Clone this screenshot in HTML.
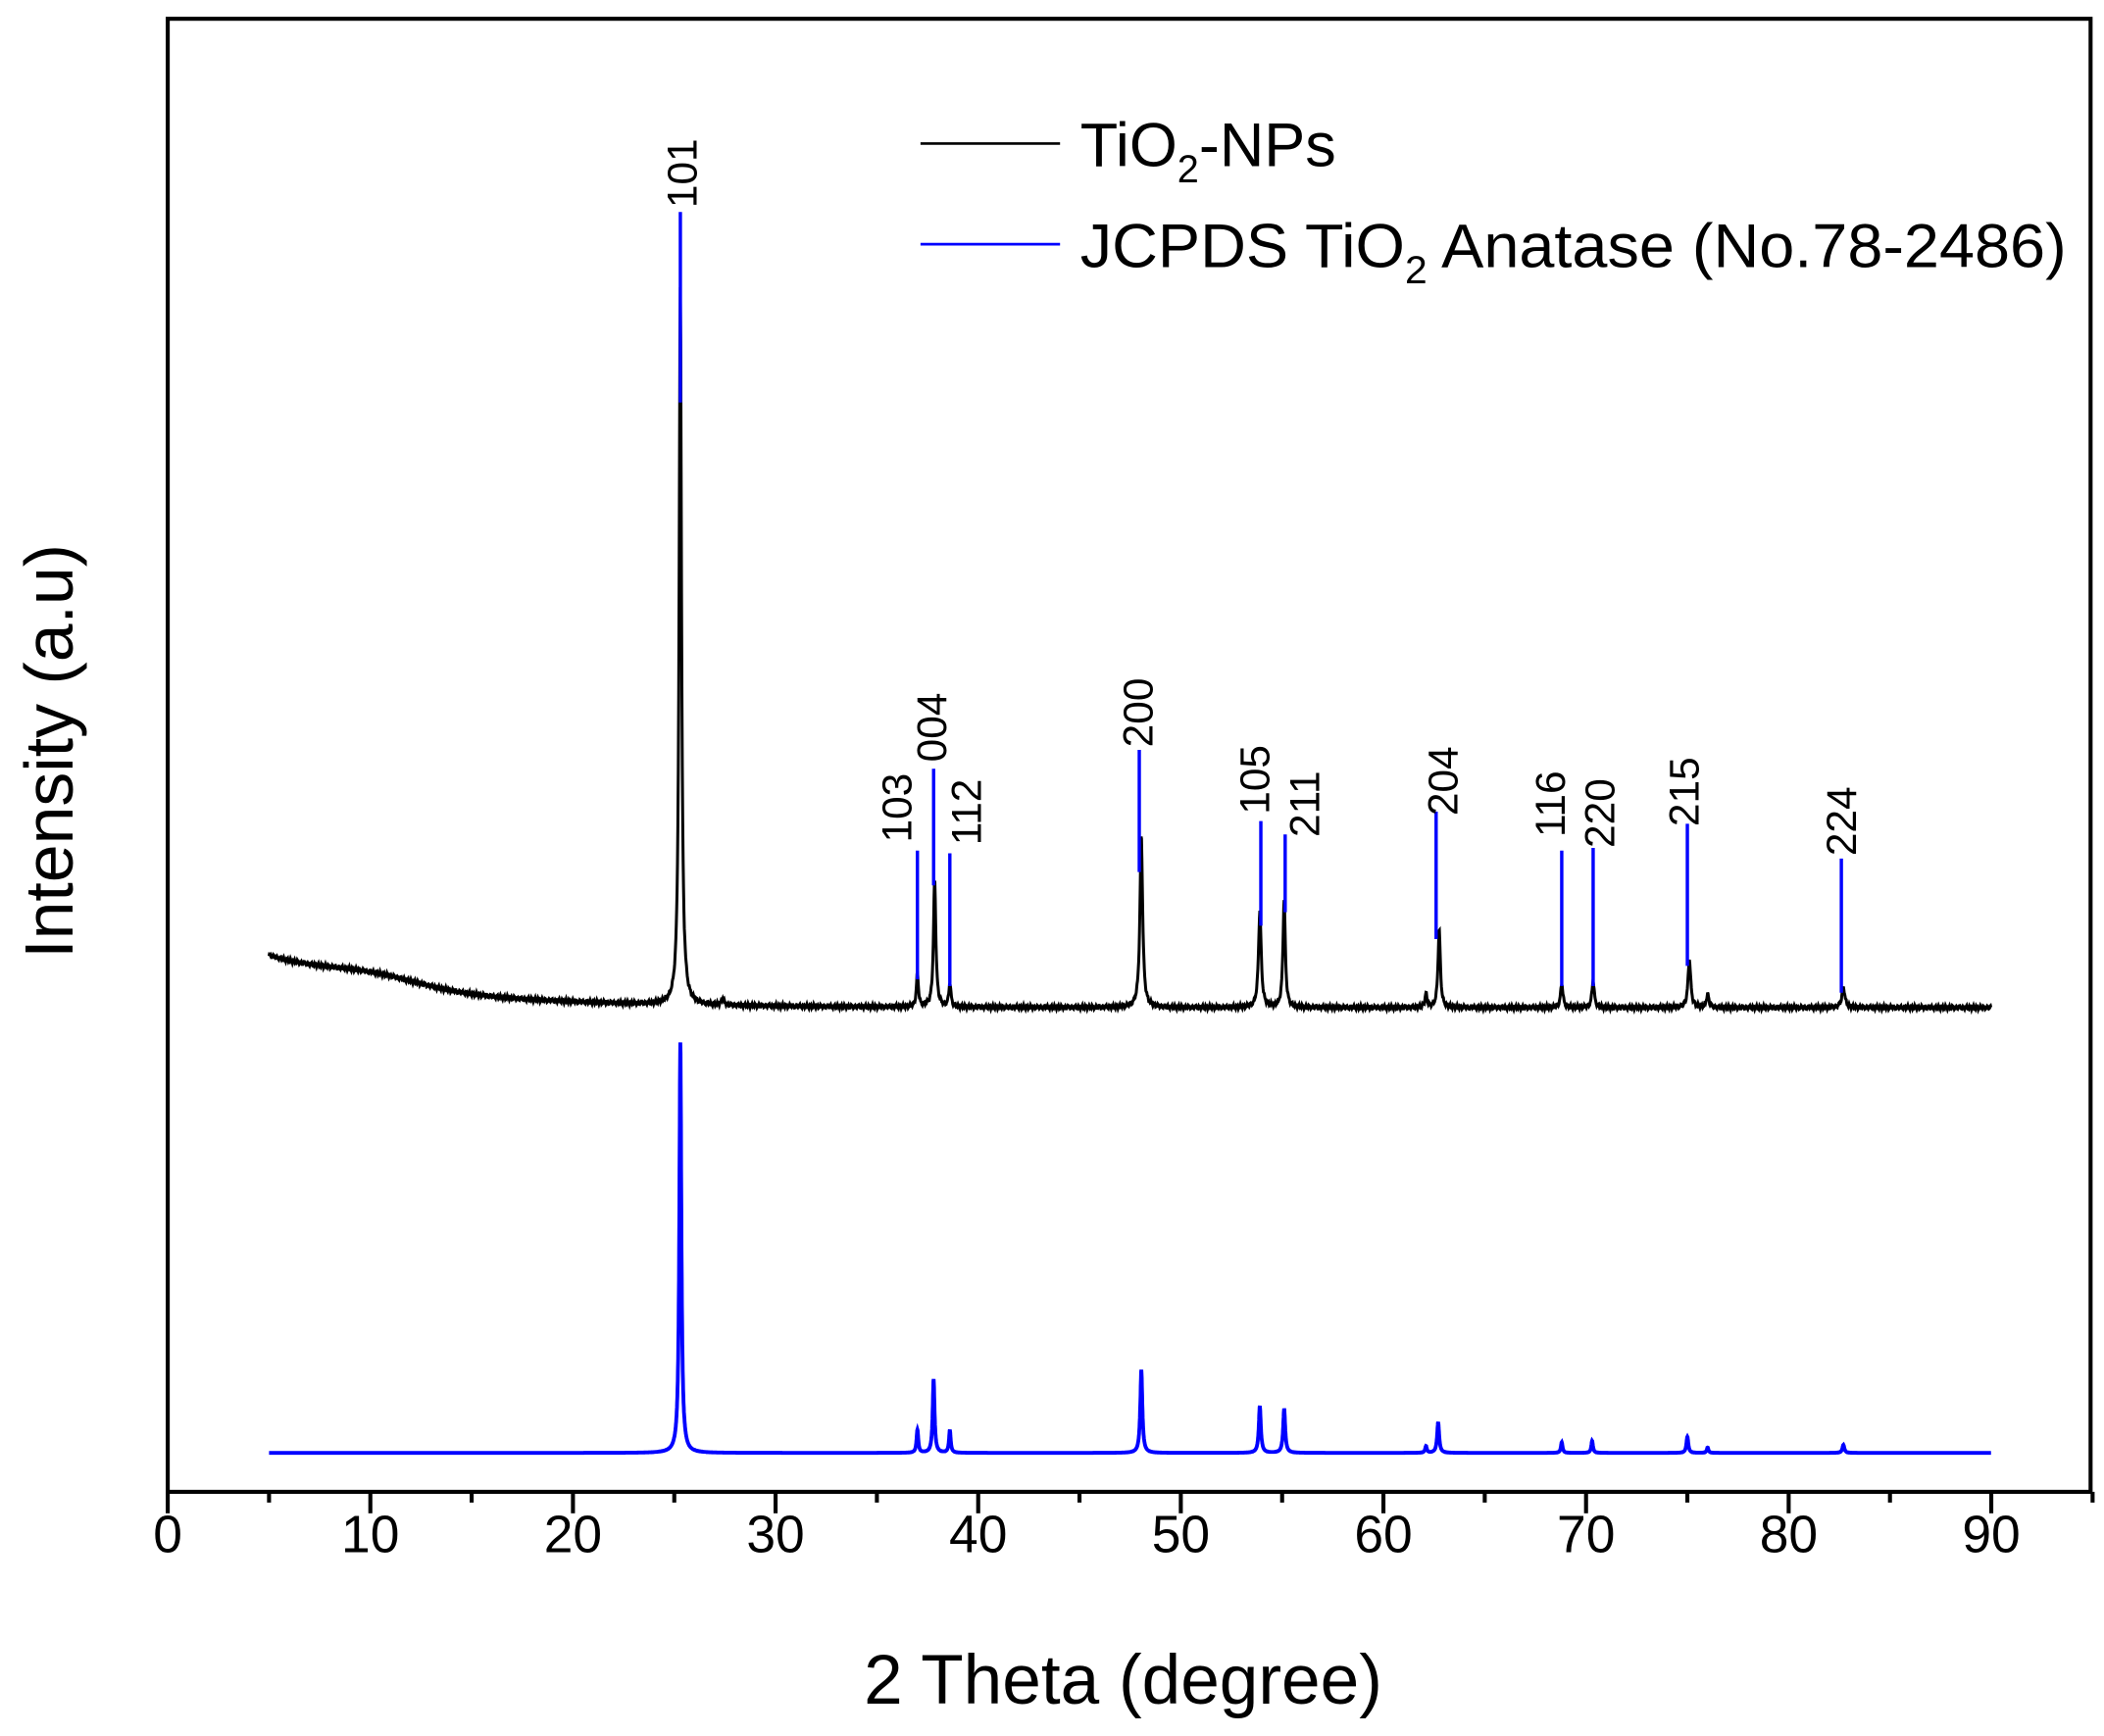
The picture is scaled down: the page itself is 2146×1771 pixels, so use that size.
<!DOCTYPE html>
<html><head><meta charset="utf-8"><style>
html,body{margin:0;padding:0;background:#fff;}
svg{display:block;}
text{font-family:"Liberation Sans",Arial,sans-serif;}
</style></head><body>
<svg id="s" width="2146" height="1771" viewBox="0 0 1568 1294" xmlns="http://www.w3.org/2000/svg">
<rect x="0" y="0" width="1568" height="1294" fill="#fff"/>
<path id="blk" fill="none" stroke="#000" stroke-width="2.2"/>
<path id="blu" fill="none" stroke="#0000ff" stroke-width="2.8"/>
<g id="sticks" stroke="#0000ff" stroke-width="2.5"></g>
<rect x="125" y="14" width="1433" height="1098" fill="none" stroke="#000" stroke-width="3"/>
<g id="ticks" stroke="#000" stroke-width="3"></g>
<g font-size="39" text-anchor="middle" fill="#000">
<text x="125" y="1157">0</text><text x="276" y="1157">10</text><text x="427" y="1157">20</text>
<text x="578" y="1157">30</text><text x="729" y="1157">40</text><text x="880" y="1157">50</text>
<text x="1031" y="1157">60</text><text x="1182" y="1157">70</text><text x="1333" y="1157">80</text>
<text x="1484" y="1157">90</text>
</g>
<text x="837" y="1270" font-size="52" text-anchor="middle">2 Theta (degree)</text>
<text transform="translate(54,560) rotate(-90)" font-size="51" text-anchor="middle">Intensity (a.u)</text>
<line x1="686" y1="107" x2="790" y2="107" stroke="#000" stroke-width="2"/>
<text x="805" y="124" font-size="46">TiO<tspan font-size="29" dy="12">2</tspan><tspan dy="-12">-NPs</tspan></text>
<line x1="686" y1="182" x2="790" y2="182" stroke="#0000ff" stroke-width="2"/>
<text x="805" y="199" font-size="46" textLength="735" lengthAdjust="spacingAndGlyphs">JCPDS TiO<tspan font-size="29" dy="12">2</tspan><tspan dy="-12"> Anatase (No.78-2486)</tspan></text>
<g id="lbl" font-size="31" fill="#000"></g>
</svg>
<script>
var X=function(v){return 125+v*15.1;};
var t=document.getElementById('ticks'),h='';
for(var v=0;v<=95;v+=5){var big=v%10==0;h+='<line x1="'+X(v)+'" y1="1112" x2="'+X(v)+'" y2="'+(big?1128:1120)+'"/>';}
t.innerHTML=h;
var bp=[[25.3,535,0.07],[27.4,5,0.07],[37.0,25,0.06],[37.85,95,0.07],[38.6,18,0.06],[48.05,128,0.08],[53.9,72,0.08],[55.1,80,0.07],[62.1,10,0.06],[62.75,58,0.07],[68.8,18,0.07],[70.35,20,0.07],[75.1,36,0.08],[76.0,10,0.07],[82.7,15,0.09]];
function bb(v){return 751-38*Math.exp(-(v-5)/7)-8*Math.exp(-Math.pow((v-10)/3.5,2));}
var d='';
for(var v=5;v<=90;v+=0.02){var y=bb(v);for(var i=0;i<bp.length;i++){var p=bp[i],q=(v-p[0])/p[2];y-=p[1]/(1+q*q);}
y+=Math.sin(v*37)*1.0+Math.sin(v*91)*0.6;
d+=(d?'L':'M')+X(v).toFixed(1)+' '+y.toFixed(1);}
document.getElementById('blk').setAttribute('d',d);
var rp=[[25.3,306,0.06],[37.0,17,0.05],[37.8,55,0.055],[38.6,17,0.05],[48.05,62,0.06],[53.9,35,0.06],[55.1,33,0.06],[62.1,5,0.05],[62.7,23,0.06],[68.8,8,0.05],[70.3,9,0.05],[75.0,12,0.055],[76.0,4,0.05],[82.7,6,0.06]];
d='';
for(var v=5;v<=90;v+=0.01){var y=1083;for(var i=0;i<rp.length;i++){var p=rp[i],q=(v-p[0])/p[2];y-=p[1]/(1+q*q);}
d+=(d?'L':'M')+X(v).toFixed(1)+' '+y.toFixed(1);}
document.getElementById('blu').setAttribute('d',d);
var st=[[25.3,158,300,'101',508,155],[37.0,634,730,'103',668,628],[37.8,573,660,'004',694,568],[38.6,636,735,'112',720,630],[47.95,559,650,'200',848,557],[53.95,612,690,'105',935,607],[55.15,622,680,'211',972,624],[62.6,605,700,'204',1075,608],[68.8,634,735,'116',1155,624],[70.35,632,735,'220',1192,632],[75.0,614,720,'215',1255,616],[82.6,640,740,'224',1372,638]];
var sh='',lh='';
for(var i=0;i<st.length;i++){var s=st[i];sh+='<line x1="'+X(s[0])+'" y1="'+s[1]+'" x2="'+X(s[0])+'" y2="'+s[2]+'"/>';
lh+='<text transform="translate('+(s[4]+11)+','+s[5]+') rotate(-90)">'+s[3]+'</text>';}
document.getElementById('sticks').innerHTML=sh;
document.getElementById('lbl').innerHTML=lh;
</script>
</body></html>
